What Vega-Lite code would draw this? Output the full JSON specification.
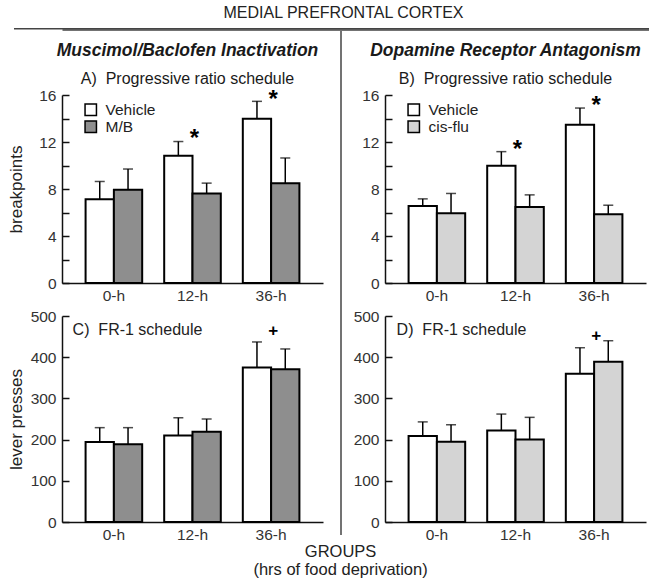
{
  "$schema": "https://vega.github.io/schema/vega-lite/v6.json",
  "padding": {"left": 7, "top": 5, "right": 2, "bottom": 2},
  "datasets": {
    "bars": [
      {"panel": "A", "group": "0-h", "cond": "Vehicle", "mean": 7.13, "upper": 8.64},
      {"panel": "A", "group": "0-h", "cond": "M/B", "mean": 7.93, "upper": 9.7},
      {"panel": "A", "group": "12-h", "cond": "Vehicle", "mean": 10.84, "upper": 12.04},
      {"panel": "A", "group": "12-h", "cond": "M/B", "mean": 7.62, "upper": 8.5},
      {"panel": "A", "group": "36-h", "cond": "Vehicle", "mean": 13.98, "upper": 15.46},
      {"panel": "A", "group": "36-h", "cond": "M/B", "mean": 8.5, "upper": 10.64},
      {"panel": "B", "group": "0-h", "cond": "Vehicle", "mean": 6.56, "upper": 7.16},
      {"panel": "B", "group": "0-h", "cond": "cis-flu", "mean": 5.93, "upper": 7.62},
      {"panel": "B", "group": "12-h", "cond": "Vehicle", "mean": 9.98, "upper": 11.18},
      {"panel": "B", "group": "12-h", "cond": "cis-flu", "mean": 6.47, "upper": 7.5},
      {"panel": "B", "group": "36-h", "cond": "Vehicle", "mean": 13.46, "upper": 14.89},
      {"panel": "B", "group": "36-h", "cond": "cis-flu", "mean": 5.85, "upper": 6.62},
      {"panel": "C", "group": "0-h", "cond": "Vehicle", "mean": 194, "upper": 229},
      {"panel": "C", "group": "0-h", "cond": "M/B", "mean": 189, "upper": 229},
      {"panel": "C", "group": "12-h", "cond": "Vehicle", "mean": 210, "upper": 253},
      {"panel": "C", "group": "12-h", "cond": "M/B", "mean": 219, "upper": 250},
      {"panel": "C", "group": "36-h", "cond": "Vehicle", "mean": 375, "upper": 437},
      {"panel": "C", "group": "36-h", "cond": "M/B", "mean": 371, "upper": 420},
      {"panel": "D", "group": "0-h", "cond": "Vehicle", "mean": 209, "upper": 243},
      {"panel": "D", "group": "0-h", "cond": "cis-flu", "mean": 195, "upper": 236},
      {"panel": "D", "group": "12-h", "cond": "Vehicle", "mean": 222, "upper": 262},
      {"panel": "D", "group": "12-h", "cond": "cis-flu", "mean": 200, "upper": 254},
      {"panel": "D", "group": "36-h", "cond": "Vehicle", "mean": 360, "upper": 423},
      {"panel": "D", "group": "36-h", "cond": "cis-flu", "mean": 389, "upper": 440}
    ],
    "sig": [
      {"panel": "A", "group": "12-h", "label": "*", "y": 12.5},
      {"panel": "A", "group": "36-h", "label": "*", "y": 15.8},
      {"panel": "B", "group": "12-h", "label": "*", "y": 11.6},
      {"panel": "B", "group": "36-h", "label": "*", "y": 15.3},
      {"panel": "C", "group": "36-h", "label": "+", "y": 465},
      {"panel": "D", "group": "36-h", "label": "+", "y": 453}
    ],
    "notes": [
      {"panel": "C", "group": "0-h", "label": "C)\u00a0 FR-1 schedule", "y": 466},
      {"panel": "D", "group": "0-h", "label": "D)\u00a0 FR-1 schedule", "y": 466}
    ],
    "hline": [{"lx0": -0.0815, "lx1": 1}],
    "vline": [{"vx": 0.8, "vy0": 0, "vy1": 1.1455}]
  },
  "spacing": 0,
  "resolve": {"scale": {"x": "independent", "y": "independent", "color": "independent", "xOffset": "independent"}},
  "vconcat": [
    {
      "width": 589, "height": 1.5,
      "title": {"text": "MEDIAL PREFRONTAL CORTEX", "fontSize": 16, "fontWeight": "normal", "color": "#222", "dx": -13, "offset": 7, "anchor": "middle"},
      "data": {"name": "hline"},
      "mark": {"type": "rect", "color": "#444"},
      "encoding": {
        "x": {"field": "lx0", "type": "quantitative", "scale": {"domain": [0, 1], "zero": false, "nice": false},
          "axis": {"orient": "bottom", "domain": true, "domainColor": "#444", "domainWidth": 1.5, "ticks": false, "labels": false, "grid": false, "title": null, "offset": 0}},
        "x2": {"field": "lx1"}
      }
    },
    {
      "spacing": 10,
      "title": {"text": ["GROUPS", "(hrs of food deprivation)"], "orient": "bottom", "anchor": "middle", "fontSize": 16.5, "fontWeight": "normal", "lineHeight": 18, "offset": 1, "dx": 14, "color": "#222"},
      "resolve": {"scale": {"x": "independent", "y": "independent", "color": "independent", "xOffset": "independent"}},
      "hconcat": [
        {
          "spacing": 5,
          "resolve": {"scale": {"x": "independent", "y": "independent", "color": "independent", "xOffset": "independent"}},
          "vconcat": [
            {
              "width": 261, "height": 188,
              "title": {"text": "Muscimol/Baclofen Inactivation", "subtitle": "A)\u00a0 Progressive ratio schedule", "fontSize": 17.5, "fontStyle": "italic", "fontWeight": "bold", "subtitleFontSize": 16, "subtitleFontWeight": "normal", "subtitlePadding": 12, "offset": 1, "anchor": "middle", "dx": -5},
              "data": {"name": "bars"},
              "transform": [{"filter": "datum.panel === 'A'"}],
              "encoding": {
                "x": {"field": "group", "type": "nominal", "scale": {"domain": ["0-h", "12-h", "36-h"], "paddingInner": 0.28, "paddingOuter": 0.3}, "axis": {"title": null, "labelAngle": 0, "ticks": false, "labelPadding": 5}},
                "y": {"field": "mean", "type": "quantitative", "title": "breakpoints", "scale": {"domain": [0, 16], "nice": false}, "axis": {"values": [0, 2, 4, 6, 8, 10, 12, 14, 16], "labelExpr": "datum.value % 4 === 0 ? datum.label : ''", "tickSize": -7, "labelPadding": 13, "titlePadding": 13}}
              },
              "layer": [
                {"mark": {"type": "bar", "stroke": "black", "strokeWidth": 2},
                 "encoding": {
                   "xOffset": {"field": "cond", "type": "nominal", "scale": {"domain": ["Vehicle", "M/B"], "paddingInner": 0, "paddingOuter": 0}},
                   "color": {"field": "cond", "type": "nominal", "scale": {"domain": ["Vehicle", "M/B"], "range": ["#ffffff", "#8e8e8e"]},
                     "legend": {"orient": "none", "legendX": 21, "legendY": 7, "title": null, "symbolType": "square", "symbolSize": 130, "symbolStrokeColor": "black", "symbolStrokeWidth": 1.5, "labelFontSize": 15.5, "labelColor": "#222", "labelOffset": 7, "rowPadding": -1.5, "padding": 0}}
                 }},
                {"mark": {"type": "rule", "color": "black", "strokeWidth": 1.5},
                 "encoding": {"xOffset": {"field": "cond", "type": "nominal"}, "y2": {"field": "upper"}}},
                {"mark": {"type": "tick", "orient": "horizontal", "color": "black", "size": 10, "thickness": 1.5},
                 "encoding": {"xOffset": {"field": "cond", "type": "nominal"}, "y": {"field": "upper", "type": "quantitative", "title": "breakpoints"}}},
                {"data": {"name": "sig"}, "transform": [{"filter": "datum.panel === 'A'"}],
                 "mark": {"type": "text", "fontSize": 24, "fontWeight": "bold", "baseline": "middle", "dy": 3, "dx": 2, "color": "black"},
                 "encoding": {"y": {"field": "y", "type": "quantitative", "title": "breakpoints"}, "text": {"field": "label"}}}
              ]
            },
            {
              "width": 261, "height": 206,
              "data": {"name": "bars"},
              "transform": [{"filter": "datum.panel === 'C'"}],
              "encoding": {
                "x": {"field": "group", "type": "nominal", "scale": {"domain": ["0-h", "12-h", "36-h"], "paddingInner": 0.28, "paddingOuter": 0.3}, "axis": {"title": null, "labelAngle": 0, "ticks": false, "labelPadding": 5}},
                "y": {"field": "mean", "type": "quantitative", "title": "lever presses", "scale": {"domain": [0, 500], "nice": false}, "axis": {"values": [0, 100, 200, 300, 400, 500], "tickSize": -7, "labelPadding": 13, "titlePadding": 5}}
              },
              "layer": [
                {"mark": {"type": "bar", "stroke": "black", "strokeWidth": 2},
                 "encoding": {
                   "xOffset": {"field": "cond", "type": "nominal", "scale": {"domain": ["Vehicle", "M/B"], "paddingInner": 0, "paddingOuter": 0}},
                   "color": {"field": "cond", "type": "nominal", "scale": {"domain": ["Vehicle", "M/B"], "range": ["#ffffff", "#8e8e8e"]}, "legend": null}
                 }},
                {"mark": {"type": "rule", "color": "black", "strokeWidth": 1.5},
                 "encoding": {"xOffset": {"field": "cond", "type": "nominal"}, "y2": {"field": "upper"}}},
                {"mark": {"type": "tick", "orient": "horizontal", "color": "black", "size": 10, "thickness": 1.5},
                 "encoding": {"xOffset": {"field": "cond", "type": "nominal"}, "y": {"field": "upper", "type": "quantitative", "title": "lever presses"}}},
                {"data": {"name": "sig"}, "transform": [{"filter": "datum.panel === 'C'"}],
                 "mark": {"type": "text", "fontSize": 17, "fontWeight": "bold", "baseline": "middle", "dy": 1, "dx": 2, "color": "black"},
                 "encoding": {"y": {"field": "y", "type": "quantitative", "title": "lever presses"}, "text": {"field": "label"}}},
                {"data": {"name": "notes"}, "transform": [{"filter": "datum.panel === 'C'"}],
                 "mark": {"type": "text", "fontSize": 16, "align": "left", "baseline": "middle", "dx": -13, "color": "#222"},
                 "encoding": {"x": {"field": "group", "type": "nominal", "bandPosition": 0}, "y": {"field": "y", "type": "quantitative", "title": "lever presses"}, "text": {"field": "label"}}}
              ]
            }
          ]
        },
        {
          "width": 10, "height": 440,
          "data": {"name": "vline"},
          "mark": {"type": "rule", "color": "#444", "strokeWidth": 1.5},
          "encoding": {
            "x": {"field": "vx", "type": "quantitative", "scale": {"domain": [0, 1]}, "axis": null},
            "y": {"field": "vy0", "type": "quantitative", "scale": {"domain": [0, 1], "nice": false}, "axis": null},
            "y2": {"field": "vy1"}
          }
        },
        {
          "spacing": 5,
          "resolve": {"scale": {"x": "independent", "y": "independent", "color": "independent", "xOffset": "independent"}},
          "vconcat": [
            {
              "width": 261, "height": 188,
              "title": {"text": "Dopamine Receptor Antagonism", "subtitle": "B)\u00a0 Progressive ratio schedule", "fontSize": 17.5, "fontStyle": "italic", "fontWeight": "bold", "subtitleFontSize": 16, "subtitleFontWeight": "normal", "subtitlePadding": 12, "offset": 1, "anchor": "middle", "dx": -10},
              "data": {"name": "bars"},
              "transform": [{"filter": "datum.panel === 'B'"}],
              "encoding": {
                "x": {"field": "group", "type": "nominal", "scale": {"domain": ["0-h", "12-h", "36-h"], "paddingInner": 0.28, "paddingOuter": 0.3}, "axis": {"title": null, "labelAngle": 0, "ticks": false, "labelPadding": 5}},
                "y": {"field": "mean", "type": "quantitative", "title": null, "scale": {"domain": [0, 16], "nice": false}, "axis": {"values": [0, 2, 4, 6, 8, 10, 12, 14, 16], "labelExpr": "datum.value % 4 === 0 ? datum.label : ''", "tickSize": -7, "labelPadding": 13}}
              },
              "layer": [
                {"mark": {"type": "bar", "stroke": "black", "strokeWidth": 2},
                 "encoding": {
                   "xOffset": {"field": "cond", "type": "nominal", "scale": {"domain": ["Vehicle", "cis-flu"], "paddingInner": 0, "paddingOuter": 0}},
                   "color": {"field": "cond", "type": "nominal", "scale": {"domain": ["Vehicle", "cis-flu"], "range": ["#ffffff", "#d4d4d4"]},
                     "legend": {"orient": "none", "legendX": 21, "legendY": 7, "title": null, "symbolType": "square", "symbolSize": 130, "symbolStrokeColor": "black", "symbolStrokeWidth": 1.5, "labelFontSize": 15.5, "labelColor": "#222", "labelOffset": 7, "rowPadding": -1.5, "padding": 0}}
                 }},
                {"mark": {"type": "rule", "color": "black", "strokeWidth": 1.5},
                 "encoding": {"xOffset": {"field": "cond", "type": "nominal"}, "y2": {"field": "upper"}}},
                {"mark": {"type": "tick", "orient": "horizontal", "color": "black", "size": 10, "thickness": 1.5},
                 "encoding": {"xOffset": {"field": "cond", "type": "nominal"}, "y": {"field": "upper", "type": "quantitative", "title": null}}},
                {"data": {"name": "sig"}, "transform": [{"filter": "datum.panel === 'B'"}],
                 "mark": {"type": "text", "fontSize": 24, "fontWeight": "bold", "baseline": "middle", "dy": 3, "dx": 2, "color": "black"},
                 "encoding": {"y": {"field": "y", "type": "quantitative", "title": null}, "text": {"field": "label"}}}
              ]
            },
            {
              "width": 261, "height": 206,
              "data": {"name": "bars"},
              "transform": [{"filter": "datum.panel === 'D'"}],
              "encoding": {
                "x": {"field": "group", "type": "nominal", "scale": {"domain": ["0-h", "12-h", "36-h"], "paddingInner": 0.28, "paddingOuter": 0.3}, "axis": {"title": null, "labelAngle": 0, "ticks": false, "labelPadding": 5}},
                "y": {"field": "mean", "type": "quantitative", "title": null, "scale": {"domain": [0, 500], "nice": false}, "axis": {"values": [0, 100, 200, 300, 400, 500], "tickSize": -7, "labelPadding": 13}}
              },
              "layer": [
                {"mark": {"type": "bar", "stroke": "black", "strokeWidth": 2},
                 "encoding": {
                   "xOffset": {"field": "cond", "type": "nominal", "scale": {"domain": ["Vehicle", "cis-flu"], "paddingInner": 0, "paddingOuter": 0}},
                   "color": {"field": "cond", "type": "nominal", "scale": {"domain": ["Vehicle", "cis-flu"], "range": ["#ffffff", "#d4d4d4"]}, "legend": null}
                 }},
                {"mark": {"type": "rule", "color": "black", "strokeWidth": 1.5},
                 "encoding": {"xOffset": {"field": "cond", "type": "nominal"}, "y2": {"field": "upper"}}},
                {"mark": {"type": "tick", "orient": "horizontal", "color": "black", "size": 10, "thickness": 1.5},
                 "encoding": {"xOffset": {"field": "cond", "type": "nominal"}, "y": {"field": "upper", "type": "quantitative", "title": null}}},
                {"data": {"name": "sig"}, "transform": [{"filter": "datum.panel === 'D'"}],
                 "mark": {"type": "text", "fontSize": 17, "fontWeight": "bold", "baseline": "middle", "dy": 1, "dx": 2, "color": "black"},
                 "encoding": {"y": {"field": "y", "type": "quantitative", "title": null}, "text": {"field": "label"}}},
                {"data": {"name": "notes"}, "transform": [{"filter": "datum.panel === 'D'"}],
                 "mark": {"type": "text", "fontSize": 16, "align": "left", "baseline": "middle", "dx": -12, "color": "#222"},
                 "encoding": {"x": {"field": "group", "type": "nominal", "bandPosition": 0}, "y": {"field": "y", "type": "quantitative", "title": null}, "text": {"field": "label"}}}
              ]
            }
          ]
        }
      ]
    }
  ],
  "config": {
    "font": "Liberation Sans",
    "view": {"stroke": null},
    "axis": {"grid": false, "labelFont": "Liberation Sans", "labelFontSize": 15.5, "labelColor": "#333", "titleFont": "Liberation Sans", "titleFontSize": 17, "titleFontWeight": "normal", "titleColor": "#222", "domainColor": "#111", "domainWidth": 1.5, "tickColor": "#111", "tickWidth": 1.5},
    "title": {"font": "Liberation Sans", "color": "#1a1a1a", "subtitleFont": "Liberation Sans", "subtitleColor": "#1a1a1a"}
  }
}
